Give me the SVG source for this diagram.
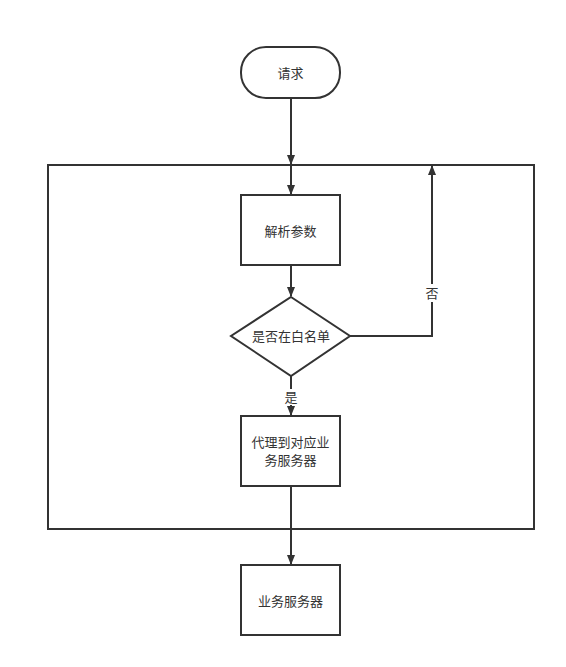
<svg xmlns="http://www.w3.org/2000/svg" width="566" height="667" viewBox="0 0 566 667">
<style>
.s{fill:#fff;stroke:#333;stroke-width:2}
.c{fill:none;stroke:#333;stroke-width:2}
text{font-family:"Liberation Sans","Noto Sans CJK SC",sans-serif;font-size:13px;fill:#333;text-anchor:middle;dominant-baseline:central}
</style>
<defs>
<marker id="a" markerWidth="10" markerHeight="10" refX="9" refY="5" orient="auto" markerUnits="userSpaceOnUse">
<path d="M0,1 L10,5 L0,9 Z" fill="#333"/>
</marker>
</defs>
<rect width="566" height="667" fill="#fff"/>
<g id="frame"><rect x="48" y="165" width="486" height="364" fill="none" stroke="#333" stroke-width="2"/></g>
<g id="connectors">
<path class="c" d="M291,98 V164" marker-end="url(#a)"/>
<path class="c" d="M291,166 V194" marker-end="url(#a)"/>
<path class="c" d="M291,265 V296" marker-end="url(#a)"/>
<path class="c" d="M350,336 H432 V166" marker-end="url(#a)"/>
<path class="c" d="M291,376 V415" marker-end="url(#a)"/>
<path class="c" d="M291,486 V564" marker-end="url(#a)"/>
<rect x="424" y="284" width="16" height="18" fill="#fff"/>
<text x="432" y="293">否</text>
<rect x="283" y="389" width="16" height="16" fill="#fff"/>
<text x="291" y="397">是</text>
</g>
<g id="start"><rect class="s" x="241" y="47" width="99" height="51" rx="25" ry="25"/><text x="290.5" y="73">请求</text></g>
<g id="parse"><rect class="s" x="241" y="195" width="99" height="70"/><text x="290.5" y="231">解析参数</text></g>
<g id="check"><path class="s" d="M291,297 L350,336 L291,376 L231,336 Z"/><text x="291" y="336">是否在白名单</text></g>
<g id="proxy"><rect class="s" x="241" y="416" width="99" height="70"/><text x="290.5" y="442">代理到对应业</text><text x="290.5" y="460">务服务器</text></g>
<g id="server"><rect class="s" x="241" y="565" width="99" height="70"/><text x="290.5" y="601">业务服务器</text></g>
</svg>
